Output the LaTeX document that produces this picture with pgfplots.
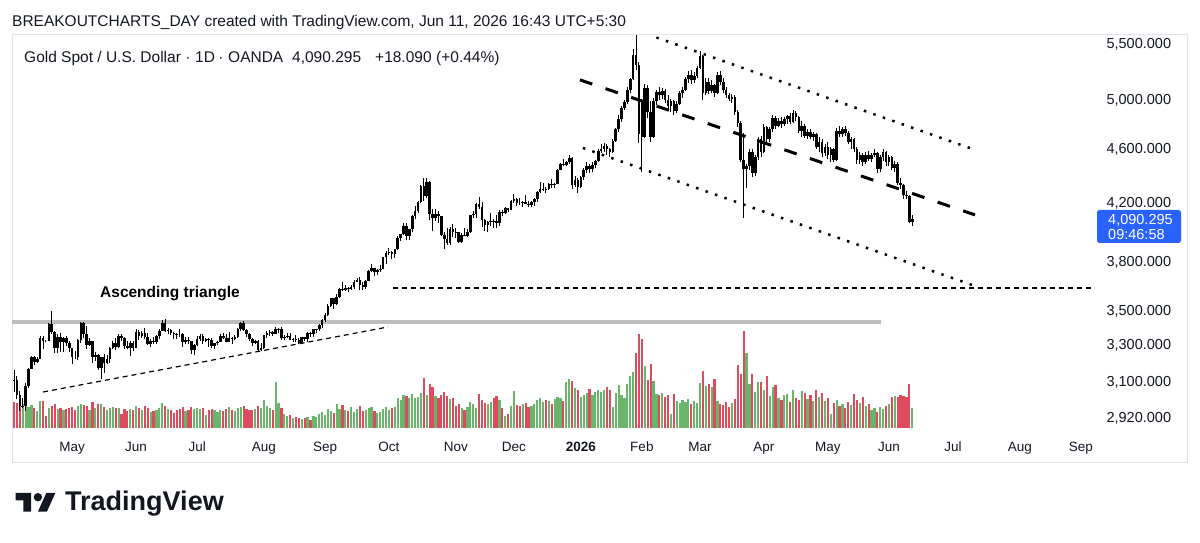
\documentclass[border=0pt]{standalone}
\usepackage{fontspec}
\setmainfont{Liberation Sans}
\usepackage{pgfplots}
\usepackage{pgfplotstable}
\pgfplotsset{compat=1.18}
\definecolor{tvblue}{HTML}{2962FF}
\definecolor{tvtext}{HTML}{131722}
\definecolor{volgreen}{RGB}{106,180,108}
\definecolor{volred}{RGB}{222,74,94}
\definecolor{framegray}{HTML}{E0E3EB}
\definecolor{resgray}{RGB}{190,190,190}

\pgfplotstableread{
i o h l c v
0 3117 3167 3054 3114 26
1 3114 3136 3015 3037 25
2 3037 3055 2957 2982 27
3 2982 3023 2970 2983 24
4 2983 3099 2957 3083 26
5 3083 3176 3073 3175 21
6 3175 3245 3172 3237 23
7 3237 3245 3193 3211 20
8 3211 3240 3205 3230 17
9 3230 3357 3229 3343 27
10 3343 3357 3284 3327 27
11 3327 3331 3320 3327 12
12 3327 3430 3325 3424 20
13 3424 3500 3367 3381 22
14 3381 3386 3260 3288 24
15 3288 3367 3261 3349 19
16 3349 3371 3266 3319 20
17 3319 3352 3268 3343 18
18 3343 3353 3300 3317 19
19 3317 3327 3268 3288 20
20 3288 3290 3202 3240 21
21 3240 3269 3229 3240 18
22 3240 3336 3222 3334 22
23 3334 3437 3315 3431 24
24 3431 3435 3346 3365 23
25 3365 3415 3283 3306 22
26 3306 3345 3300 3325 18
27 3325 3325 3208 3236 26
28 3236 3265 3219 3249 20
29 3249 3252 3168 3179 24
30 3179 3240 3120 3240 24
31 3240 3252 3154 3203 21
32 3203 3250 3200 3230 18
33 3230 3295 3205 3290 20
34 3290 3325 3285 3314 21
35 3314 3345 3277 3294 20
36 3294 3365 3288 3357 20
37 3357 3365 3325 3342 14
38 3342 3351 3285 3300 19
39 3300 3325 3280 3288 17
40 3288 3330 3245 3317 19
41 3317 3325 3271 3289 18
42 3289 3393 3289 3380 22
43 3380 3392 3333 3353 20
44 3353 3385 3345 3374 18
45 3374 3403 3338 3352 22
46 3352 3375 3307 3310 20
47 3310 3338 3293 3326 16
48 3326 3349 3310 3322 17
49 3322 3360 3312 3354 18
50 3354 3398 3340 3386 20
51 3386 3446 3384 3432 25
52 3432 3451 3380 3385 22
53 3385 3403 3367 3388 19
54 3388 3396 3362 3370 18
55 3370 3379 3340 3369 15
56 3369 3373 3341 3368 18
57 3368 3398 3348 3368 19
58 3368 3370 3295 3323 21
59 3323 3348 3312 3333 17
60 3333 3350 3310 3327 18
61 3327 3328 3255 3274 21
62 3274 3310 3247 3303 19
63 3303 3358 3297 3338 20
64 3338 3365 3330 3357 19
65 3357 3365 3311 3326 20
66 3326 3345 3322 3337 13
67 3337 3343 3296 3335 18
68 3335 3345 3287 3301 19
69 3301 3318 3283 3313 18
70 3313 3330 3305 3324 16
71 3324 3368 3322 3355 18
72 3355 3375 3340 3343 17
73 3343 3366 3320 3324 19
74 3324 3377 3320 3347 21
75 3347 3350 3310 3339 18
76 3339 3360 3332 3350 17
77 3350 3402 3345 3397 20
78 3397 3433 3385 3431 21
79 3431 3439 3382 3387 22
80 3387 3393 3351 3368 19
81 3368 3373 3325 3337 18
82 3337 3345 3301 3314 18
83 3314 3334 3308 3326 19
84 3326 3334 3268 3275 22
85 3275 3315 3272 3289 20
86 3289 3363 3281 3362 28
87 3362 3385 3345 3373 22
88 3373 3390 3355 3380 20
89 3380 3385 3358 3369 18
90 3369 3408 3367 3396 46
91 3396 3400 3375 3398 25
92 3398 3404 3331 3342 20
93 3342 3360 3331 3348 14
94 3348 3375 3345 3356 12
95 3356 3375 3331 3335 13
96 3335 3347 3324 3336 10
97 3336 3359 3323 3332 11
98 3332 3345 3311 3315 10
99 3315 3350 3311 3348 9
100 3348 3350 3325 3338 10
101 3338 3379 3321 3372 11
102 3372 3376 3352 3365 8
103 3365 3394 3352 3393 12
104 3393 3398 3372 3397 11
105 3397 3423 3384 3416 14
106 3416 3453 3400 3448 16
107 3448 3490 3436 3476 13
108 3476 3540 3470 3533 19
109 3533 3578 3527 3578 17
110 3578 3580 3511 3545 15
111 3545 3600 3535 3586 24
112 3586 3641 3577 3636 19
113 3636 3674 3620 3626 23
114 3626 3658 3620 3641 18
115 3641 3648 3613 3634 17
116 3634 3655 3628 3643 21
117 3643 3686 3633 3679 16
118 3679 3703 3675 3690 19
119 3690 3707 3626 3659 22
120 3659 3675 3628 3644 17
121 3644 3688 3633 3685 18
122 3685 3750 3683 3746 20
123 3746 3791 3737 3764 21
124 3764 3765 3717 3736 17
125 3736 3761 3722 3749 15
126 3749 3781 3740 3760 16
127 3760 3835 3759 3833 19
128 3833 3872 3793 3859 21
129 3859 3895 3850 3866 18
130 3866 3876 3820 3857 20
131 3857 3889 3830 3887 21
132 3887 3977 3884 3961 30
133 3961 3990 3940 3985 28
134 3985 4060 3980 4040 33
135 4040 4059 3945 3975 32
136 3975 4020 3947 4018 30
137 4018 4116 4000 4110 34
138 4110 4180 4090 4143 30
139 4143 4218 4131 4208 31
140 4208 4330 4200 4326 35
141 4326 4380 4217 4251 50
142 4251 4381 4235 4356 33
143 4356 4360 4082 4125 44
144 4125 4160 4004 4095 41
145 4095 4161 4075 4126 32
146 4126 4146 4064 4111 30
147 4111 4111 3971 3982 33
148 3982 4002 3886 3952 36
149 3952 4030 3915 3930 32
150 3930 4034 3917 4024 29
151 4024 4055 3966 4002 30
152 4002 4030 3962 4000 22
153 4000 4003 3928 3932 24
154 3932 3995 3930 3980 20
155 3980 4028 3971 3977 18
156 3977 4020 3968 4000 21
157 4000 4120 3996 4115 26
158 4115 4148 4095 4127 24
159 4127 4200 4100 4195 20
160 4195 4245 4160 4170 34
161 4170 4211 4033 4080 28
162 4080 4093 4005 4045 25
163 4045 4075 3998 4066 24
164 4066 4133 4042 4078 26
165 4078 4092 4030 4077 30
166 4077 4120 4030 4065 32
167 4065 4150 4040 4135 28
168 4135 4155 4110 4131 20
169 4131 4170 4125 4164 12
170 4164 4168 4140 4155 14
171 4155 4225 4150 4218 22
172 4218 4264 4205 4230 37
173 4230 4240 4180 4205 23
174 4205 4240 4190 4205 22
175 4205 4218 4175 4207 24
176 4207 4260 4195 4197 25
177 4197 4215 4175 4190 21
178 4190 4218 4170 4210 22
179 4210 4235 4180 4230 24
180 4230 4290 4210 4280 28
181 4280 4355 4270 4300 30
182 4300 4350 4290 4305 26
183 4305 4320 4270 4303 28
184 4303 4350 4295 4340 27
185 4340 4375 4310 4330 24
186 4330 4350 4310 4340 29
187 4340 4450 4338 4445 31
188 4445 4495 4440 4490 30
189 4490 4525 4470 4480 27
190 4480 4510 4470 4500 46
191 4500 4558 4490 4535 49
192 4535 4545 4305 4330 47
193 4330 4395 4320 4370 40
194 4370 4380 4275 4320 38
195 4320 4400 4310 4390 31
196 4390 4460 4370 4440 33
197 4440 4500 4420 4470 35
198 4470 4490 4420 4450 39
199 4450 4500 4425 4480 33
200 4480 4520 4460 4510 36
201 4510 4600 4500 4590 38
202 4590 4640 4570 4600 36
203 4600 4650 4580 4630 38
204 4630 4640 4560 4600 41
205 4600 4610 4540 4580 38
206 4580 4680 4575 4670 21
207 4670 4770 4660 4760 35
208 4760 4880 4740 4840 43
209 4840 4950 4820 4935 33
210 4935 5000 4920 4985 30
211 4985 5110 4970 5090 44
212 5090 5190 5060 5180 52
213 5180 5450 5170 5400 56
214 5400 5580 5260 5310 75
215 5310 5330 4650 4720 94
216 4990 5010 4430 4700 89
217 4700 5140 4690 5100 62
218 5100 5130 4850 4900 48
219 4900 4990 4660 4700 64
220 4700 5020 4690 4990 47
221 4990 5090 4960 5070 34
222 5070 5110 5000 5040 33
223 5040 5100 5010 5080 35
224 5080 5095 4980 5000 31
225 5000 5040 4920 4950 33
226 4950 5010 4900 4990 14
227 4990 5005 4880 4910 34
228 4910 4990 4890 4970 27
229 4970 5080 4960 5060 25
230 5060 5110 5020 5090 28
231 5090 5200 5080 5180 26
232 5180 5250 5150 5220 29
233 5220 5260 5140 5170 24
234 5170 5240 5150 5210 27
235 5210 5300 5190 5280 25
236 5280 5430 5270 5390 45
237 5390 5400 5000 5060 57
238 5060 5190 5040 5160 42
239 5160 5190 5050 5080 44
240 5080 5170 5060 5130 41
241 5130 5140 5030 5060 49
242 5060 5240 5050 5220 27
243 5220 5250 5130 5160 24
244 5160 5190 5060 5090 23
245 5090 5110 5020 5040 26
246 5040 5060 4990 5010 21
247 5010 5050 4980 5030 25
248 5030 5040 4880 4900 29
249 4900 4920 4780 4810 63
250 4810 4830 4500 4520 54
251 4520 4730 4100 4450 97
252 4450 4490 4310 4470 75
253 4470 4600 4440 4580 44
254 4580 4600 4390 4420 54
255 4420 4560 4400 4540 36
256 4540 4700 4520 4680 46
257 4680 4710 4540 4580 46
258 4580 4800 4570 4780 38
259 4780 4790 4640 4680 52
260 4680 4780 4660 4760 32
261 4760 4880 4740 4850 41
262 4850 4870 4760 4790 43
263 4790 4850 4780 4830 30
264 4830 4860 4770 4800 28
265 4800 4860 4790 4840 33
266 4840 4880 4800 4870 34
267 4870 4890 4800 4820 26
268 4820 4915 4810 4890 38
269 4890 4910 4830 4860 30
270 4860 4870 4730 4750 28
271 4750 4830 4700 4790 37
272 4790 4800 4690 4710 35
273 4710 4760 4680 4740 29
274 4740 4760 4680 4700 33
275 4700 4740 4670 4720 27
276 4720 4730 4600 4620 38
277 4620 4700 4580 4660 31
278 4660 4680 4540 4570 35
279 4570 4640 4550 4620 27
280 4620 4660 4530 4560 30
281 4560 4620 4500 4600 14
282 4600 4610 4500 4520 25
283 4520 4770 4510 4750 28
284 4750 4790 4700 4720 22
285 4720 4780 4700 4760 24
286 4760 4790 4710 4730 20
287 4730 4750 4640 4660 26
288 4660 4700 4600 4680 23
289 4680 4690 4580 4600 34
290 4600 4620 4490 4520 28
291 4520 4580 4490 4560 25
292 4560 4570 4470 4500 31
293 4500 4580 4490 4560 22
294 4560 4590 4510 4530 24
295 4530 4570 4500 4560 18
296 4560 4600 4540 4570 20
297 4570 4580 4420 4450 16
298 4450 4560 4430 4540 21
299 4540 4600 4510 4580 19
300 4580 4590 4470 4500 22
301 4500 4560 4470 4540 24
302 4540 4550 4440 4460 31
303 4460 4510 4430 4490 32
304 4490 4500 4330 4350 31
305 4350 4380 4300 4330 33
306 4330 4340 4230 4260 32
307 4260 4290 4230 4250 31
308 4250 4260 4060 4072 44
309 4072 4118 4041 4090 20
}\candles

\begin{document}
\begin{tikzpicture}
\useasboundingbox (0,0) rectangle (1200pt,543pt);
\fill[white] (0,0) rectangle (1200pt,543pt);
% chart frame
\draw[framegray, line width=1pt] (12pt,80pt) rectangle (1187pt,508pt);

% volume pane
\begin{axis}[at={(12pt,115pt)}, anchor=south west, scale only axis,
  width=1083pt, height=393pt, xmin=-0.69, xmax=371.9, ymin=0, ymax=393,
  hide axis]
\addplot[ycomb, mark=none, line width=2.2pt, volgreen]
  table[x=i, y expr={(\thisrow{c}>\thisrow{o})*\thisrow{v}}] {\candles};
\addplot[ycomb, mark=none, line width=2.2pt, volred]
  table[x=i, y expr={(1-(\thisrow{c}>\thisrow{o}))*\thisrow{v}}] {\candles};
\end{axis}

% price pane
\begin{axis}[at={(12pt,115pt)}, anchor=south west, scale only axis,
  width=1083pt, height=393pt, xmin=-0.69, xmax=371.9,
  ymode=log, ymin=2872, ymax=5584,
  axis line style={draw=none}, major tick length=0pt, tick style={draw=none},
  xtick={20,42,63,86,107,129,152,172,195,216,236,258,280,301,323,346,367},
  xticklabels={May,Jun,Jul,Aug,Sep,Oct,Nov,Dec,{\bfseries 2026},Feb,Mar,Apr,May,Jun,Jul,Aug,Sep},
  ytick={2920,3100,3300,3500,3800,4200,4600,5000,5500},
  yticklabels={{2,920.000},{3,100.000},{3,300.000},{3,500.000},{3,800.000},{4,200.000},{4,600.000},{5,000.000},{5,500.000}},
  yticklabel pos=right,
  xticklabel style={font=\fontsize{13.5}{15}\selectfont, text=tvtext, anchor=base, yshift=-24pt},
  yticklabel style={font=\fontsize{14.5}{16}\selectfont, text=tvtext, anchor=west, xshift=8pt},
  clip=true]
% resistance
\addplot[resgray, line width=4pt, forget plot] coordinates {(-0.69,3433) (298.4,3433)};
% wicks
\addplot[black, only marks, mark=none, mark size=0pt, mark options={draw=none, fill=none}, forget plot,
  error bars/.cd, y dir=plus, y explicit, error mark=none,
  error bar style={line width=1pt, black}]
  table[x=i, y=l, y error plus expr={\thisrow{h}-\thisrow{l}}] {\candles};
% bodies
\addplot[black, only marks, mark=none, mark size=0pt, mark options={draw=none, fill=none}, forget plot,
  error bars/.cd, y dir=plus, y explicit, error mark=none,
  error bar style={line width=2.6pt, black}]
  table[x=i, y expr={min(\thisrow{o},\thisrow{c})}, y error plus expr={abs(\thisrow{c}-\thisrow{o})}] {\candles};
% trend lines
\addplot[black, line width=1.2pt, dash pattern=on 5pt off 4pt, forget plot] coordinates {(10.0,3052) (128.7,3407)};
\addplot[black, line width=1.2pt, dash pattern=on 5pt off 4pt, forget plot] coordinates {(130.4,3640) (371.9,3640)};
\addplot[black, line width=3pt, dash pattern=on 13pt off 14pt, forget plot] coordinates {(194.7,5175) (330.6,4118)};
\addplot[black, line width=2.5pt, dash pattern=on 2.5pt off 7.5pt, forget plot] coordinates {(221,5560) (330.6,4597)};
\addplot[black, line width=2.5pt, dash pattern=on 2.5pt off 7.5pt, forget plot] coordinates {(195.7,4612) (330.6,3652)};
\end{axis}

% header texts
\node[anchor=base west, inner sep=0, text=tvtext, font=\fontsize{15.5}{18}\selectfont] at (12pt,516pt)
  {BREAKOUTCHARTS\_DAY created with TradingView.com, Jun 11, 2026 16:43 UTC+5:30};
\begin{scope}[every node/.style={inner sep=0, text=tvtext, font=\fontsize{15.5}{18}\selectfont}]
\node[anchor=base west] at (24pt,480.5pt) {Gold Spot / U.S. Dollar};
\node[anchor=base] at (188pt,480.5pt) {·};
\node[anchor=base west] at (195pt,480.5pt) {1D};
\node[anchor=base] at (221pt,480.5pt) {·};
\node[anchor=base west] at (228pt,480.5pt) {OANDA};
\node[anchor=base west] at (292pt,480.5pt) {4,090.295};
\node[anchor=base west] at (375pt,480.5pt) {+18.090};
\node[anchor=base west] at (436pt,480.5pt) {(+0.44\%)};
\end{scope}

% annotation
\node[anchor=base west, inner sep=0, text=black, font=\fontsize{15.5}{18}\selectfont\bfseries] at (100pt,245pt) {Ascending triangle};

% price tag
\fill[tvblue, rounded corners=2.5pt] (1097pt,300pt) rectangle (1181pt,333pt);
\node[anchor=base west, inner sep=0, text=white, font=\fontsize{14.5}{16}\selectfont] at (1108pt,318.5pt) {4,090.295};
\node[anchor=base west, inner sep=0, text=white, font=\fontsize{14.5}{16}\selectfont] at (1108pt,303.5pt) {09:46:58};

% TradingView logo
\fill[tvtext] (15.5pt,50pt) -- (31.2pt,50pt) -- (31.2pt,31.3pt) -- (23.3pt,31.3pt) -- (23.3pt,42.7pt) -- (15.5pt,42.7pt) -- cycle;
\fill[tvtext] (37.9pt,45.8pt) circle (4.2pt);
\fill[tvtext] (37.9pt,31.3pt) -- (46.3pt,50pt) -- (55.3pt,50pt) -- (46.9pt,31.3pt) -- cycle;
\node[anchor=base west, inner sep=0, text=tvtext, font=\fontsize{27}{30}\selectfont\bfseries] at (65pt,32pt) {TradingView};
\end{tikzpicture}
\end{document}
